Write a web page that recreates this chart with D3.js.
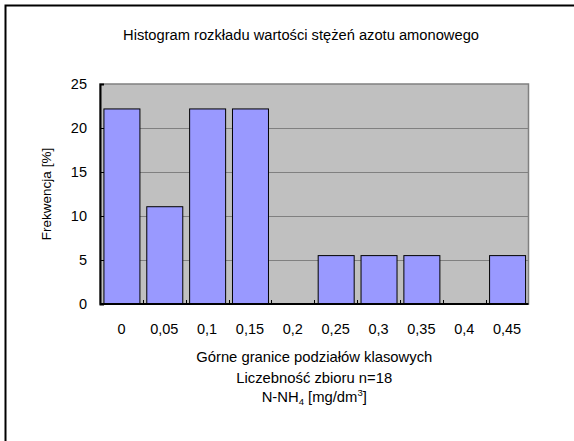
<!DOCTYPE html>
<html>
<head>
<meta charset="utf-8">
<script src="https://cdn.jsdelivr.net/npm/d3@7"></script>
<style>
  html, body { margin: 0; padding: 0; background: #fff; overflow: hidden; }
  svg { display: block; }
  text { font-family: "Liberation Sans", Arial, sans-serif; fill: #000; }
</style>
</head>
<body>
<svg id="chart" width="574" height="441"></svg>
<script>
// Upper class limits (N-NH4, mg/dm3) and frequency in each class [%], n = 18
const categories = ["0", "0,05", "0,1", "0,15", "0,2", "0,25", "0,3", "0,35", "0,4", "0,45"];
const counts = [4, 2, 4, 4, 0, 1, 1, 1, 0, 1];
const sampleSize = 18;
const frequency = counts.map(c => c / sampleSize * 100);
const yTicks = [0, 5, 10, 15, 20, 25];

const svg = d3.select("#chart");
const plot = { left: 100, top: 84, right: 528.5, bottom: 304 };
const FONT = "Liberation Sans, Arial, sans-serif";

// outer frame (runs off the right and bottom edges)
svg.append("rect")
  .attr("x", 5.5).attr("y", 5.5)
  .attr("width", 700).attr("height", 700)
  .attr("fill", "#fff").attr("stroke", "#000").attr("stroke-width", 2);

const x = d3.scaleBand()
  .domain(categories)
  .range([plot.left, plot.right])
  .paddingInner(0.16)
  .paddingOuter(0.08);

const y = d3.scaleLinear()
  .domain([0, 25])
  .range([plot.bottom, plot.top]);

// plot area background
svg.append("rect")
  .attr("x", plot.left).attr("y", plot.top)
  .attr("width", plot.right - plot.left).attr("height", plot.bottom - plot.top)
  .attr("fill", "#c0c0c0").attr("stroke", "#808080").attr("stroke-width", 1.5);

// horizontal gridlines
svg.append("g")
  .selectAll("line")
  .data(yTicks.filter(t => t > 0 && t < 25))
  .join("line")
  .attr("x1", plot.left).attr("x2", plot.right)
  .attr("y1", d => Math.round(y(d)) + 0.5).attr("y2", d => Math.round(y(d)) + 0.5)
  .attr("stroke", "#808080").attr("stroke-width", 1);

// bars (empty classes draw nothing)
svg.append("g")
  .selectAll("rect")
  .data(categories.map((c, i) => ({ c, v: frequency[i] })).filter(d => d.v > 0))
  .join("rect")
  .attr("x", d => x(d.c) + 0.5)
  .attr("y", d => y(d.v) + 0.5)
  .attr("width", x.bandwidth())
  .attr("height", d => y(0) - y(d.v))
  .attr("fill", "#9999ff")
  .attr("stroke", "#000")
  .attr("stroke-width", 1);

// y axis (inward ticks)
const yAxis = d3.axisLeft(y).tickValues(yTicks).tickSize(-4).tickPadding(13).tickFormat(d3.format("d"));
const gy = svg.append("g").attr("transform", `translate(${plot.left},0)`).call(yAxis);
gy.select(".domain").attr("stroke", "#000").attr("stroke-width", 2);
gy.selectAll(".tick line").attr("stroke", "#000");
gy.selectAll(".tick text").attr("font-size", 14.5).attr("font-family", FONT);

// x axis: ticks on class boundaries, labels centred in each class
const xAxisG = svg.append("g");
xAxisG.append("line")
  .attr("x1", plot.left).attr("x2", plot.right)
  .attr("y1", plot.bottom).attr("y2", plot.bottom)
  .attr("stroke", "#000").attr("stroke-width", 2);
const step = x.step();
xAxisG.selectAll("line.tick")
  .data(categories.slice(1))
  .join("line")
  .attr("class", "tick")
  .attr("x1", d => Math.round(x(d) - step * x.paddingInner() / 2) + 0.5)
  .attr("x2", d => Math.round(x(d) - step * x.paddingInner() / 2) + 0.5)
  .attr("y1", plot.bottom).attr("y2", plot.bottom - 4)
  .attr("stroke", "#000");
xAxisG.selectAll("text")
  .data(categories)
  .join("text")
  .attr("x", d => x(d) + x.bandwidth() / 2)
  .attr("y", 333.5)
  .attr("text-anchor", "middle")
  .attr("font-size", 14.5)
  .text(d => d);

// chart title
svg.append("text")
  .attr("x", 301).attr("y", 40)
  .attr("text-anchor", "middle")
  .attr("font-size", 14.7)
  .text("Histogram rozkładu wartości stężeń azotu amonowego");

// y axis title
svg.append("text")
  .attr("transform", `translate(51,${(plot.top + plot.bottom) / 2}) rotate(-90)`)
  .attr("text-anchor", "middle")
  .attr("font-size", 13.5)
  .text("Frekwencja [%]");

// x axis title (three lines)
const cx = (plot.left + plot.right) / 2;
svg.append("text")
  .attr("x", cx).attr("y", 362)
  .attr("text-anchor", "middle").attr("font-size", 14.8)
  .text("Górne granice podziałów klasowych");
svg.append("text")
  .attr("x", cx).attr("y", 383)
  .attr("text-anchor", "middle").attr("font-size", 14.8)
  .text(`Liczebność zbioru n=${sampleSize}`);
const t3 = svg.append("text")
  .attr("x", cx).attr("y", 402)
  .attr("text-anchor", "middle").attr("font-size", 14.8);
t3.append("tspan").text("N-NH");
t3.append("tspan").attr("font-size", 9.5).attr("dy", 3).text("4");
t3.append("tspan").attr("dy", -3).text(" [mg/dm");
t3.append("tspan").attr("font-size", 9.5).attr("dy", -6).text("3");
t3.append("tspan").attr("dy", 6).text("]");
</script>
</body>
</html>
